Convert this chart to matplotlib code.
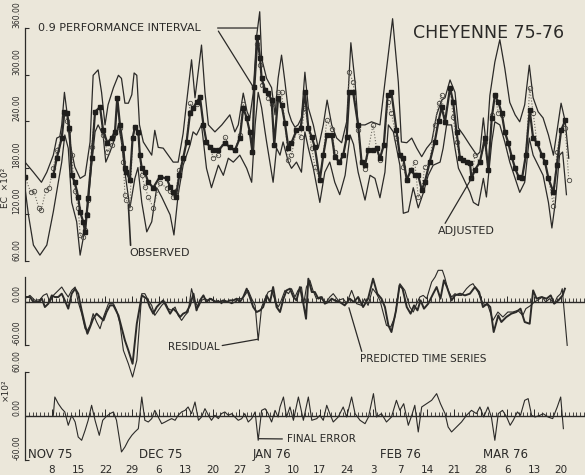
import numpy as np
import matplotlib
matplotlib.use("Agg")
import matplotlib.pyplot as plt

PAPER = "#ebe7da"
INK = "#2b2a28"
plt.rcParams["font.family"] = "DejaVu Sans"

# day numbers are counted from 1 Nov 1975
adj_days = [0, 7.4, 8.3, 9.6, 10.3, 11.0, 11.6, 12.2, 13.0, 13.9, 14.4, 15.2, 15.7, 16.1, 16.5,
            17.4, 18.3, 19.6, 20.4, 21.5, 22.6, 23.5, 24.1, 24.8, 25.7, 26.1, 26.5, 27.4, 28.1,
            28.7, 29.6, 30.0, 30.5, 31.3, 32.2, 33.5, 35.2, 37.0, 37.9, 38.7, 39.4, 40.3, 41.3,
            42.2, 43.1, 43.9, 44.8, 45.7, 46.6, 47.4, 48.3, 49.2, 50.5, 52.2, 53.5, 54.8, 56.1,
            57.0, 57.9, 58.7, 59.4, 59.9, 60.7, 61.4, 61.8, 62.7, 63.5, 64.4, 65.1, 66.1, 67.0,
            67.9, 68.8, 69.6, 70.9, 72.0, 73.1, 74.0, 74.9, 75.7, 77.0, 77.9, 78.8, 80.1, 80.9,
            82.1, 83.1, 84.0, 84.7, 85.7, 87.0, 87.9, 88.8, 89.6, 90.9, 91.8, 92.7, 93.7, 94.7,
            95.7, 97.0, 97.9, 98.8, 99.7, 100.8, 101.8, 102.7, 103.6, 104.4, 105.7, 107.0, 108.0,
            108.8, 109.7, 111.0, 111.8, 112.7, 113.6, 114.5, 115.4, 116.2, 116.6, 117.5, 118.8,
            120.1, 121.0, 121.9, 122.7, 123.6, 124.5, 125.3, 126.2, 127.1, 128.0, 128.9, 129.8,
            130.8, 131.8, 132.7, 133.7, 135.0, 135.8, 136.7, 138.0, 138.9, 140.0, 141.1]
adjusted = [168, 170, 192, 218, 252, 250, 231, 170, 161, 142, 123, 110, 97, 119, 141,
            192, 252, 258, 228, 212, 218, 226, 270, 235, 205, 179, 174, 164, 218,
            232, 226, 196, 179, 174, 161, 154, 168, 166, 155, 148, 142, 170, 192,
            213, 250, 257, 264, 271, 235, 213, 206, 202, 202, 212, 206, 202, 218,
            257, 244, 226, 200, 284, 348, 321, 295, 280, 276, 267, 209, 270, 261,
            237, 205, 212, 228, 231, 277, 231, 219, 206, 164, 196, 222, 222, 194,
            187, 196, 219, 277, 277, 235, 187, 183, 202, 202, 205, 192, 209, 273,
            277, 228, 196, 192, 164, 177, 170, 170, 151, 161, 187, 213, 240,
            258, 239, 283, 265, 226, 192, 190, 187, 186, 166, 177, 187,
            218, 177, 244, 273, 265, 250, 226, 212, 194, 179, 168, 166,
            196, 254, 218, 212, 196, 187, 166, 148, 183, 228, 241]

obs_days = [0, 1.5, 2.3, 3.6, 4.2, 5.5, 6.3] + adj_days[1:] + [142.0]
observed = [168, 148, 150, 128, 125, 151, 154,
            180, 202, 218, 250, 240, 228, 196, 150, 128, 93, 90, 100, 120, 138,
            206, 252, 258, 222, 200, 209, 224, 270, 231, 187, 145, 138, 128, 218,
            232, 224, 196, 170, 155, 142, 128, 160, 154, 150, 142, 150, 177, 192,
            213, 263, 257, 262, 271, 235, 213, 206, 192, 196, 219, 206, 202, 222,
            262, 244, 226, 200, 284, 340, 312, 286, 280, 270, 262, 209, 277, 277,
            237, 190, 196, 228, 219, 257, 231, 205, 181, 164, 196, 241, 230, 200,
            187, 196, 219, 303, 290, 228, 187, 178, 202, 235, 205, 190, 209, 264,
            250, 218, 196, 181, 164, 177, 187, 142, 151, 181, 187, 235, 263,
            273, 239, 283, 245, 213, 192, 190, 187, 186, 166, 196, 187,
            213, 177, 248, 273, 251, 248, 226, 212, 194, 179, 168, 166,
            196, 283, 251, 212, 196, 187, 166, 131, 200, 228, 231, 164]

upper_days = [0, 2.2, 4.3, 5.7, 7.4, 8.3, 9.1, 9.6, 10.3, 11.0, 11.7, 13.0, 14.4, 15.7, 17.0,
              17.8, 19.1, 20.0, 20.9, 21.7, 23.1, 24.4, 25.2, 26.1, 27.0, 27.9, 28.5, 29.2,
              29.9, 30.9, 31.8, 33.1, 33.9, 34.8, 36.1, 38.7, 40.0, 41.3, 42.2, 43.5, 44.4,
              46.1, 47.0, 47.9, 49.6, 51.4, 53.5, 54.8, 55.7, 57.0, 58.0, 58.7, 59.6, 60.5,
              61.3, 61.8, 63.1, 64.4, 65.3, 66.1, 67.0, 67.9, 68.8, 69.6, 70.5, 71.3, 72.2,
              73.1, 74.0, 75.3, 76.6, 77.9, 78.9, 80.1, 81.4, 82.7, 84.0, 85.1, 86.2, 87.0,
              88.8, 90.5, 92.7, 94.0, 96.0, 97.5, 98.3, 99.7, 101.0, 102.3, 103.6, 104.9,
              106.2, 107.5, 108.8, 109.7, 111.0, 112.3, 113.2, 114.5, 116.2, 118.0, 118.8,
              119.7, 120.5, 121.4, 122.7, 124.0, 125.3, 126.6, 128.0, 129.2, 130.5, 131.7,
              132.7, 134.0, 135.3, 136.7, 138.0, 138.9, 140.0, 141.1, 142.0]
upper = [187, 174, 161, 174, 196, 218, 220, 235, 277, 250, 213, 181, 166, 170, 213,
         299, 306, 277, 235, 261, 283, 299, 295, 263, 263, 274, 302, 299,
         235, 213, 206, 196, 228, 206, 205, 187, 187, 224, 264, 319, 270,
         338, 277, 235, 226, 235, 248, 226, 235, 276, 252, 244, 276, 350,
         381, 321, 295, 283, 248, 295, 325, 290, 252, 240, 232, 235, 244,
         303, 257, 235, 205, 235, 267, 235, 218, 212, 239, 341, 290, 235,
         235, 239, 235, 290, 372, 290, 213, 212, 218, 205, 194, 205,
         213, 248, 267, 270, 293, 277, 231, 222, 209, 196, 200,
         244, 206, 273, 316, 345, 308, 264, 248, 239, 261, 312,
         270, 252, 244, 222, 196, 226, 263, 239, 192]

lower_days = [0, 0.9, 2.2, 3.9, 5.7, 7.4, 8.7, 9.6, 10.4, 11.3, 12.2, 13.5, 14.4, 15.7, 16.5,
              17.4, 18.3, 19.1, 20.4, 21.1, 22.2, 23.5, 24.4, 25.2, 26.1, 27.4, 28.7, 29.5,
              30.5, 31.8, 33.1, 34.4, 35.7, 37.9, 38.9, 40.0, 41.3, 43.1, 43.9, 44.8, 46.1,
              47.4, 48.7, 50.5, 51.8, 53.1, 54.4, 56.1, 57.9, 59.2, 60.1, 60.9, 61.8, 62.7,
              63.1, 64.8, 65.7, 66.6, 67.4, 68.8, 69.6, 70.9, 72.2, 73.1, 74.0, 75.3, 77.0,
              78.3, 79.6, 80.9, 82.2, 83.6, 84.9, 85.8, 87.0, 88.8, 90.1, 91.4, 92.7, 94.0,
              94.9, 96.2, 97.9, 98.8, 100.1, 101.4, 102.7, 104.0, 105.3, 106.6, 108.4, 109.2,
              110.1, 111.4, 112.3, 113.2, 114.5, 116.2, 117.1, 118.4, 119.7, 120.5, 121.9,
              122.7, 124.0, 125.3, 126.6, 128.0, 129.2, 130.5, 131.7, 132.7, 134.0, 135.3,
              136.7, 137.6, 138.5, 139.6, 140.4, 141.4]
lower = [154, 119, 80, 67, 80, 123, 161, 187, 222, 205, 135, 110, 67, 102, 135,
         183, 226, 235, 222, 187, 200, 218, 235, 213, 174, 128, 166, 180,
         135, 97, 110, 154, 142, 119, 93, 145, 183, 209, 226, 222, 235,
         179, 154, 183, 170, 192, 187, 196, 179, 161, 235, 277, 257, 226,
         213, 161, 205, 196, 213, 187, 179, 187, 174, 226, 205, 179, 135,
         174, 187, 161, 145, 170, 222, 210, 174, 138, 170, 166, 141, 174,
         235, 226, 183, 121, 123, 154, 128, 147, 170, 183, 187, 205,
         235, 235, 205, 179, 166, 148, 135, 131, 166, 142, 213,
         239, 235, 213, 187, 166, 148, 161, 218, 196, 183, 170,
         135, 102, 135, 196, 200, 145]

resid_days = [0, 1.3, 2.6, 3.9, 4.8, 5.7, 6.5, 7.4, 8.7, 9.6, 10.4, 11.3, 12.2, 13.1, 13.9,
              14.8, 15.7, 16.3, 17.0, 17.8, 18.7, 19.6, 20.5, 21.8, 23.1, 23.9, 24.8, 25.7,
              27.0, 28.1, 29.2, 30.5, 31.3, 32.2, 33.1, 33.9, 34.8, 35.7, 36.6, 37.4, 38.3,
              39.2, 40.0, 40.9, 41.8, 42.6, 43.5, 44.4, 45.3, 46.1, 47.0, 47.9, 48.7, 49.6,
              50.5, 51.3, 52.2, 53.1, 54.0, 54.8, 55.7, 56.6, 57.4, 58.3, 59.2, 60.1, 60.9,
              61.8, 62.7, 63.5, 64.4, 65.3, 66.1, 66.6, 67.9, 68.8, 69.6, 70.5, 71.3, 72.2,
              72.8, 73.5, 74.4, 75.2, 76.1, 77.0, 77.8, 78.7, 79.6, 80.5, 81.8, 83.1, 84.0,
              85.3, 86.6, 87.9, 88.7, 89.6, 90.8, 91.8, 92.7, 93.6, 94.4, 95.5, 96.6, 97.9,
              99.2, 100.5, 101.4, 102.3, 103.1, 104.0, 104.9, 106.2, 107.1, 107.9, 109.0,
              109.6, 110.5, 111.4, 112.3, 113.1, 114.0, 115.3, 116.2, 117.0, 118.3, 119.6,
              120.9, 122.2, 123.5, 124.8, 126.1, 127.4, 128.7, 130.0, 130.8, 132.1, 133.0,
              133.8, 135.1, 136.0, 137.0, 138.2, 139.0, 139.9, 140.3, 141.6]
residual = [4.7, 9.3, 2.3, 3.3, 9.3, 11.7, 0, 9.3, 16.3, 21, 14, 7, 16.3, 21, 0,
            -16.3, -37.4, -39.7, -32.7, -16.3, -28, -37.4, -21, -2.3, -2.3, -11.7, -30.4, -67.7,
            -86.4, -105, -81.7, 11.7, 11.7, 2.3, -4.7, -18.7, -11.7, -4.7, 0, -9.3, -11.7,
            -7, -18.7, -25.7, -18.7, -14, 18.7, 0, -7, 2.3, 4.7, 2.3, 4.7, 0,
            2.3, -2.3, 2.3, 0, -2.3, 0, 4.7, 4.7, 9.3, 16.3, 4.7, -4.7, -53.7,
            -7, 4.7, 14, 16.3, 2.3, -7, -2.3, 16.3, 11.7, 18.7, 7, 16.3, 21,
            -2.3, 21, 30.4, 16.3, 4.7, 7, 2.3, 0, 7, 11.7, 2.3, 4.7, -2.3,
            16.3, -2.3, -4.7, 4.7, -4.7, 18.7, 11.7, 2.3, -16.3, -32.7, -35, -21, 25.7,
            16.3, -7, -14, -2.3, 7, 9.3, 4.7, 28, 35, 44.4, 44.4,
            35, 16.3, 7, 11.7, 9.3, 9.3, 18.7, 23.4, 25.7, 14, -2.3,
            -4.7, -25.7, -14, -21, -14, -14, -11.7, -18.7, -9.3, -4.7, 0,
            2.3, 7, 0, 4.7, -2.3, 7, 11.7, 18.7, -60.7]

pred_days = [0, 1.3, 2.2, 3.5, 4.4, 5.2, 6.1, 7.0, 7.8, 8.7, 9.6, 10.4, 11.3, 12.2, 13.1,
             13.9, 14.8, 15.7, 16.3, 17.0, 17.8, 18.7, 19.6, 20.5, 21.3, 22.2, 23.1, 24.4,
             25.2, 26.1, 27.0, 28.1, 29.2, 30.5, 31.8, 32.6, 33.5, 34.4, 35.2, 36.1, 37.0,
             37.9, 38.7, 39.6, 40.5, 41.3, 42.2, 43.1, 44.0, 44.8, 45.7, 46.6, 47.4, 48.3,
             49.2, 50.0, 50.9, 51.8, 52.7, 53.5, 54.4, 55.3, 56.1, 57.0, 57.9, 58.7, 59.6,
             60.5, 61.4, 62.2, 63.1, 64.0, 64.8, 65.7, 66.6, 67.5, 68.3, 69.2, 70.1, 70.9,
             71.8, 72.7, 73.4, 74.0, 74.9, 75.7, 76.6, 77.5, 78.3, 79.2, 80.1, 80.9, 82.2,
             83.5, 84.8, 85.9, 87.0, 88.3, 89.6, 90.9, 92.0, 93.1, 94.0, 94.9, 95.7, 96.9,
             97.8, 98.6, 99.7, 100.7, 101.6, 102.5, 103.3, 104.2, 105.3, 106.6, 107.5, 108.5,
             109.4, 110.2, 111.4, 112.3, 113.6, 114.9, 116.2, 117.5, 118.6, 119.6, 120.7,
             121.5, 122.4, 123.6, 124.4, 125.7, 127.0, 128.3, 129.4, 130.5, 131.8, 132.7,
             133.6, 134.9, 136.2, 137.3, 138.2, 139.3, 140.4, 141.0]
predicted = [7, 7, 0, 0, 4.7, -7, -2.3, 9.3, 7, 7, 11.7, 2.3, -9.3, 11.7, 18.7,
             11.7, -11.7, -32.7, -44.4, -35, -23.4, -16.3, -21, -25.7, -14, -4.7, -4.7, -18.7,
             -35, -53.7, -67.7, -86.4, -30.4, 9.3, 4.7, -7, -16.3, -7, -2.3, 2.3, -7,
             -16.3, -9.3, -14, -21, -16.3, -14, -4.7, 11.7, -11.7, 2.3, 9.3, 0, 4.7,
             2.3, 0, 0, 2.3, 0, 2.3, 2.3, 4.7, 0, 7, 18.7, 7, -7,
             -14, -11.7, -7, 9.3, 0, 21, -7, -14, 4.7, 16.3, 18.7, 7, 2.3,
             21, -2.3, -23.4, 32.7, 14, 14, 4.7, 7, -2.3, 0, 4.7, 2.3, 0,
             -4.7, 4.7, 0, 7, -7, 4.7, 32.7, 11.7, 4.7, -7, -32.7, -42, -11.7,
             23.4, 18.7, -7, -16.3, -4.7, -11.7, 2.3, -9.3, -2.3, 11.7, 21, 4.7,
             30.4, 21, 2.3, 9.3, 11.7, 9.3, 11.7, 21, 14, -7, -2.3,
             -7, -42, -18.7, -28, -21, -16.3, -14, -9.3, -28, -30.4, 16.3,
             4.7, 7, 4.7, 9.3, -2.3, 2.3, 9.3, 18.7]

err_days = [7.4, 7.8, 8.7, 9.6, 10.4, 11.3, 12.2, 13.1, 13.9, 14.8, 15.7, 16.5, 17.4, 18.3,
            19.4, 20.3, 21.1, 22.2, 23.1, 23.9, 25.2, 26.1, 27.0, 27.9, 28.7, 29.6, 30.5,
            31.3, 32.2, 33.1, 33.9, 34.8, 35.7, 36.6, 37.4, 38.3, 39.2, 40.0, 40.9, 41.8,
            42.6, 43.5, 44.4, 45.3, 46.1, 47.0, 47.9, 48.7, 49.6, 50.5, 51.3, 52.2, 53.1,
            54.0, 54.8, 55.7, 56.6, 57.4, 58.3, 59.2, 60.1, 60.9, 61.8, 62.7, 63.5, 64.4,
            65.3, 66.1, 66.6, 67.5, 68.3, 69.2, 70.1, 71.4, 72.7, 74.0, 74.9, 76.2, 77.0,
            77.9, 78.8, 79.6, 80.5, 81.8, 83.1, 84.0, 85.3, 86.2, 87.5, 88.8, 89.7, 91.0,
            91.8, 93.1, 94.4, 95.7, 97.0, 97.9, 98.9, 100.1, 101.0, 101.8, 102.7, 103.6,
            104.9, 106.2, 107.5, 108.5, 109.7, 110.5, 111.4, 112.7, 114.0, 115.3, 116.6,
            117.9, 118.8, 119.8, 120.9, 121.8, 122.7, 123.6, 124.7, 125.8, 126.7, 127.5,
            128.6, 129.4, 130.5, 131.4, 132.3, 133.2, 134.5, 135.3, 136.6, 137.8, 139.0,
            139.9, 140.6]
final_error = [0.9, 25.9, 16.8, 10, 5.5, -12.7, 0.9, -8.2, -28.7, -33.2, -19.6, -5.9, 14.6, -5.9,
               -26.4, -5.9, -1.4, 3.2, 5.5, -5.9, -49.1, -42.3, -33.2, -26.4, -21.8, -17.3, 25.9,
               -5.9, -8.2, -3.6, 7.7, -1.4, -10.5, -8.2, -5.9, -3.6, -5.9, 0.9, 5.5, 7.7,
               12.3, 3.2, 19.1, -5.9, -1.4, 10, 0.9, -5.9, 0.9, -3.6, 3.2, 5.5, 0.9,
               3.2, -1.4, -5.9, -3.6, 3.2, -8.2, -3.6, 5.5, -33.2, 7.7, 10, 3.2, -8.2,
               7.7, -1.4, 12.3, 25.9, -1.4, 12.3, -5.9, 25.9, -5.9, 25.9, -5.9, -3.6, 0.9,
               -5.9, 14.6, 3.2, -8.2, -1.4, 12.3, -1.4, 25.9, 3.2, -5.9, -10.5, -1.4, 30.5,
               -1.4, 3.2, -8.2, -1.4, 21.4, 7.7, 16.8, -12.7, 0.9, 14.6, -21.8, 12.3,
               16.8, 21.4, 30.5, 16.8, 3.2, -15, -21.8, -15, -8.2, 0.9, 7.7,
               3.2, 12.3, -1.4, 12.3, -1.4, -33.2, 3.2, 7.7, -1.4, -12.7, -5.9,
               5.5, 0.9, 21.4, 23.7, 0.9, -1.4, 0.9, 3.2, -1.4, -3.6, 12.3,
               25.9, -17.3]

week_days = list(range(7, 141, 7))
week_labels = ["8", "15", "22", "29", "6", "13", "20", "27", "3", "10",
               "17", "24", "3", "7", "14", "21", "28", "6", "13", "20"]
month_starts = [0.8, 29.7, 59.5, 92.7, 119.6]
month_names = ["NOV 75", "DEC 75", "JAN 76", "FEB 76", "MAR 76"]

X_MAX = 146.2

fig = plt.figure(figsize=(5.85, 4.75), dpi=100, facecolor=PAPER)
ax_top = fig.add_axes([0.0427, 0.4211, 0.957, 0.5684])
ax_mid = fig.add_axes([0.0427, 0.1789, 0.957, 0.2842])
ax_bot = fig.add_axes([0.0427, 0.0274, 0.957, 0.2105])


def left_axis(ax, lo, hi, ticks, ylim):
    ax.set_facecolor("none")
    ax.set_xlim(0, X_MAX)
    ax.set_ylim(*ylim)
    for side in ("top", "right", "bottom"):
        ax.spines[side].set_visible(False)
    ax.spines["left"].set_bounds(lo, hi)
    ax.spines["left"].set_color(INK)
    ax.spines["left"].set_linewidth(0.9)
    ax.set_yticks(ticks)
    ax.set_yticklabels([f"{t:.2f}" for t in ticks], rotation=90, va="bottom",
                       ha="right", fontsize=5.5, color=INK)
    ax.tick_params(axis="y", direction="in", length=3, width=0.8, pad=2.5, colors=INK)
    ax.set_xticks([])


def zero_line(ax, h):
    # zero reference with a small tick for every day, taller ones each week
    ax.axhline(0, color=INK, lw=1.0)
    ax.vlines(np.arange(0, X_MAX, 1.0), 0, h, color=INK, lw=0.6)
    ax.vlines(week_days, 0, h * 1.8, color=INK, lw=0.7)


left_axis(ax_top, 60, 360, [60, 120, 180, 240, 300, 360], (41.4, 389.7))
left_axis(ax_mid, -60, 35, [-60, 0], (-123.2, 65.8))
left_axis(ax_bot, -60, 60, [-60, 0, 60], (-62.8, 73.7))

# upper panel: interval, observed and adjusted series
ax_top.plot(upper_days, upper, color=INK, lw=0.9)
ax_top.plot(lower_days, lower, color=INK, lw=0.9)
ax_top.plot(obs_days, observed, color="#6d6a62", lw=0.8, ls=":", marker="o", ms=3.2,
            mfc="none", mec="#4a4843", mew=0.6)
adj_line = np.array(adjusted, dtype=float)
adj_line[0] = np.nan
ax_top.plot(adj_days, adj_line, color=INK, lw=1.6)
ax_top.plot(adj_days, adjusted, ls="none", marker="s", ms=3.2, color="#1f1e1c")

ax_top.text(3.4, 360, "0.9 PERFORMANCE INTERVAL", fontsize=8, color=INK, va="center")
ax_top.annotate("", xy=(60.6, 360), xytext=(50.3, 360),
                arrowprops=dict(arrowstyle="-", color=INK, lw=0.9, shrinkA=0, shrinkB=0))
ax_top.annotate("", xy=(59.6, 284), xytext=(50.5, 356),
                arrowprops=dict(arrowstyle="-", color=INK, lw=0.9, shrinkA=0, shrinkB=0))
ax_top.text(101.3, 353.5, "CHEYENNE 75-76", fontsize=12.5, color=INK, va="center")
ax_top.annotate("OBSERVED", xy=(27.0, 132), xytext=(27.3, 69.7), fontsize=8, color=INK,
                va="center", arrowprops=dict(arrowstyle="-", color=INK, lw=1.2,
                                             relpos=(0.02, 1.0), shrinkA=0, shrinkB=0))
ax_top.annotate("ADJUSTED", xy=(116.6, 166), xytext=(107.8, 98), fontsize=8, color=INK,
                va="center", arrowprops=dict(arrowstyle="-", color=INK, lw=0.9,
                                             relpos=(0.1, 1.0), shrinkA=0, shrinkB=0))
fig.text(5 / 585, 1 - 188 / 475, "EC  \u00d710\u00b2", rotation=90, fontsize=6.5,
         color=INK, ha="center", va="center")

# middle panel: residual and predicted time series
zero_line(ax_mid, 5.0)
ax_mid.plot(resid_days, residual, color=INK, lw=0.8)
ax_mid.plot(pred_days, predicted, color=INK, lw=1.4)
ax_mid.annotate("RESIDUAL", xy=(60.9, -52), xytext=(37.3, -63), fontsize=7.5, color=INK,
                va="center", arrowprops=dict(arrowstyle="-", color=INK, lw=0.9,
                                             relpos=(1.0, 0.6), shrinkA=0, shrinkB=0))
ax_mid.annotate("PREDICTED TIME SERIES", xy=(84.6, -8), xytext=(87.5, -80), fontsize=7.5,
                color=INK, va="center",
                arrowprops=dict(arrowstyle="-", color=INK, lw=0.9, relpos=(0.02, 1.0),
                                shrinkA=0, shrinkB=0))

# lower panel: final error and the date axis
zero_line(ax_bot, 5.0)
ax_bot.plot(err_days, final_error, color=INK, lw=0.8)
ax_bot.annotate("FINAL ERROR", xy=(61.0, -31), xytext=(68.3, -31.4), fontsize=7.5,
                color=INK, va="center",
                arrowprops=dict(arrowstyle="-", color=INK, lw=0.9, relpos=(0.0, 0.5),
                                shrinkA=1, shrinkB=0))
fig.text(5 / 585, 1 - 390 / 475, "\u00d710\u00b2", rotation=90, fontsize=6.5,
         color=INK, ha="center", va="center")
ax_bot.set_xticks(week_days)
ax_bot.set_xticklabels(week_labels, fontsize=7.5, color=INK)
ax_bot.tick_params(axis="x", length=0, pad=2)
for start, name in zip(month_starts, month_names):
    ax_bot.text(start, -51.9, name, fontsize=8.5, color=INK, va="center", ha="left")

fig.savefig("out.png", dpi=100, facecolor=PAPER)
